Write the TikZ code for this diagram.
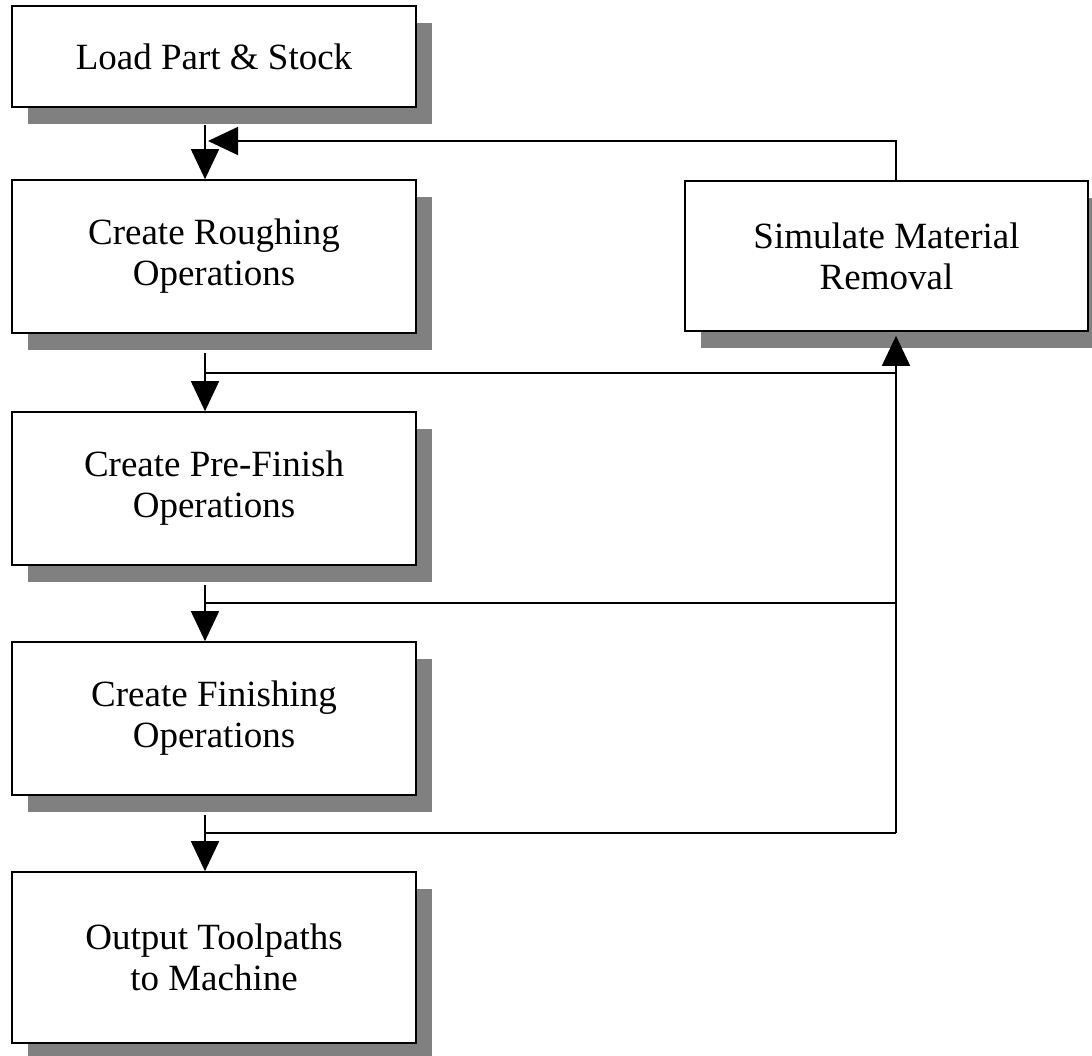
\documentclass[tikz,border=0pt]{standalone}
\usepackage{fontspec}
\setmainfont{Liberation Serif}
\usetikzlibrary{arrows.meta,shadows}
\tikzset{
  stepbox/.style={draw,line width=1.6pt,fill=white,minimum width=404pt,align=center,
    font=\fontsize{37}{41}\selectfont,
    drop shadow={shadow xshift=16pt,shadow yshift=-17pt,fill=gray,opacity=1}},
  link/.style={line width=1.6pt,-{Triangle[length=30pt,width=28pt]}},
  wire/.style={line width=1.6pt}
}
\begin{document}
\begin{tikzpicture}[x=1pt,y=-1pt]
  \useasboundingbox[fill=white] (0,0) rectangle (1092,1056);
  \node[stepbox,minimum height=101pt] (load) at (214,56.5) {Load Part \& Stock};
  \node[stepbox,minimum height=153pt] (rough) at (214,256.5) {Create Roughing\\Operations};
  \node[stepbox,minimum height=153pt] (pre) at (214,488.5) {Create Pre-Finish\\Operations};
  \node[stepbox,minimum height=153pt] (fin) at (214,718.5) {Create Finishing\\Operations};
  \node[stepbox,minimum height=171pt] (out) at (214,957.5) {Output Toolpaths\\to Machine};
  \node[stepbox,minimum width=403pt,minimum height=150pt] (sim) at (886.5,256) {Simulate Material\\Removal};
  \coordinate (spine) at (205,0);
  \coordinate (loop) at (896,0);
  \coordinate (ret) at (208,141);
  \coordinate (b1) at (205,373);
  \coordinate (b2) at (205,603);
  \coordinate (b3) at (205,833);
  \draw[link,shorten <=17pt] (load.south -| spine) -- (rough.north -| spine);
  \draw[link,shorten <=19pt] (rough.south -| spine) -- (pre.north -| spine);
  \draw[link,shorten <=19pt] (pre.south -| spine) -- (fin.north -| spine);
  \draw[link,shorten <=19pt] (fin.south -| spine) -- (out.north -| spine);
  \draw[wire] (b1) -- (b1 -| loop);
  \draw[wire] (b2) -- (b2 -| loop);
  \draw[wire] (b3) -- (b3 -| loop);
  \draw[link,shorten >=4pt] (b3 -| loop) -- (loop |- sim.south);
  \draw[link] (loop |- sim.north) |- (ret);
\end{tikzpicture}
\end{document}
